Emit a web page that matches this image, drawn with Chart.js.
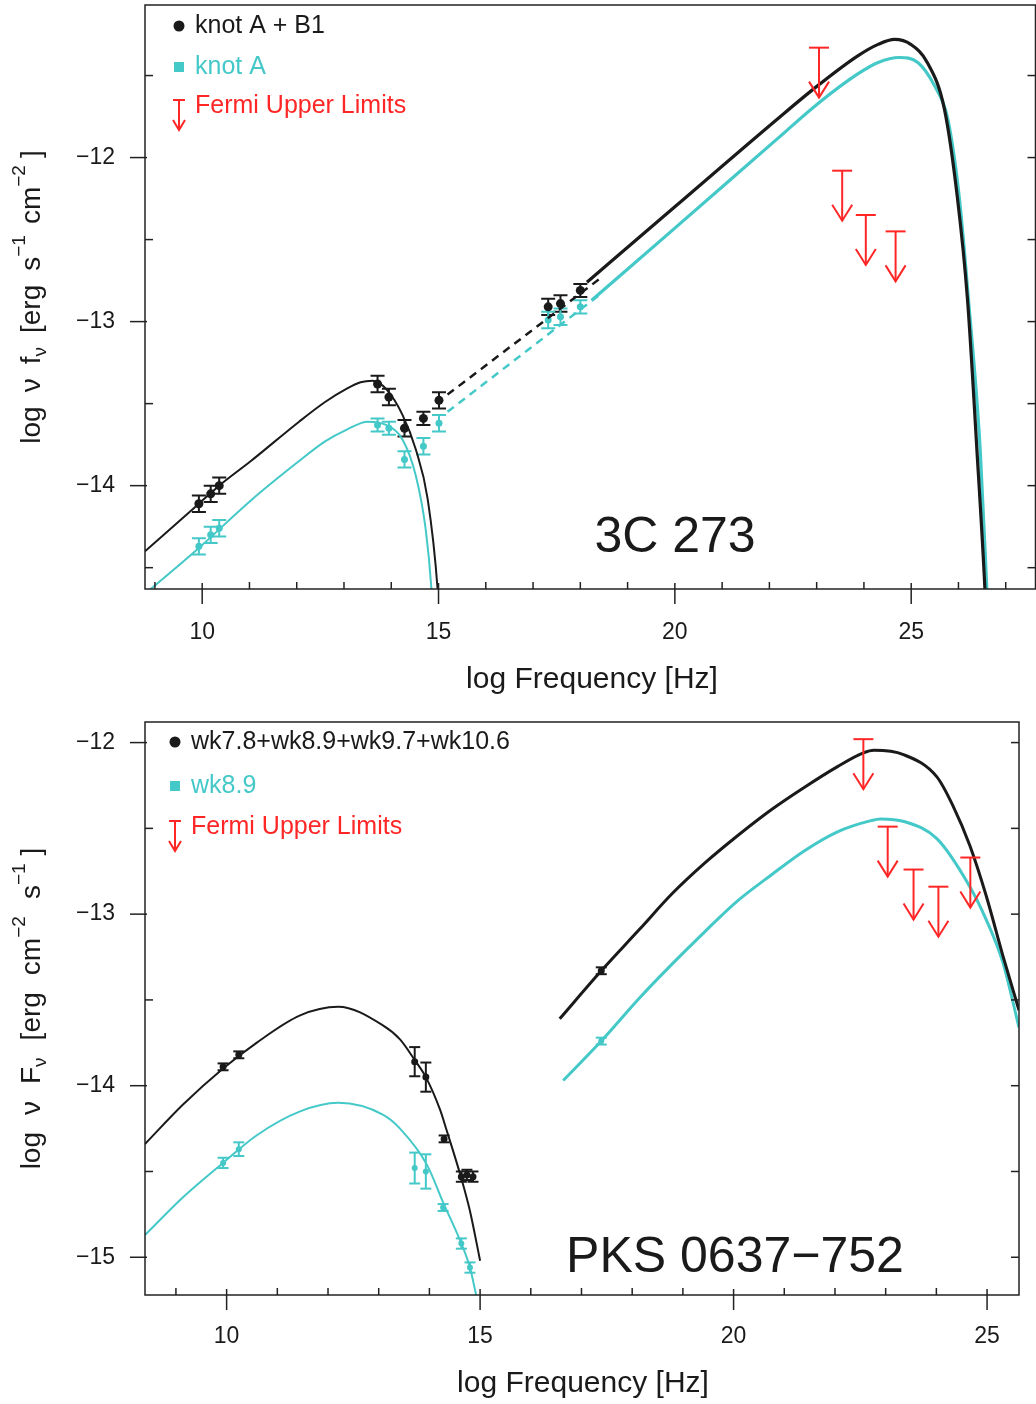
<!DOCTYPE html>
<html>
<head>
<meta charset="utf-8">
<script src="https://cdn.jsdelivr.net/npm/chart.js@4/dist/chart.umd.min.js"></script>
<style>
  html, body { margin: 0; padding: 0; background: #fff; overflow: hidden; }
  .panel { position: absolute; left: 0; }
</style>
</head>
<body>
<div class="panel" style="top:0"><canvas id="top" width="1040" height="700"></canvas></div>
<div class="panel" style="top:700px"><canvas id="bottom" width="1040" height="704"></canvas></div>
<script>
// ---------- 3C 273 (top panel) ----------
const abX = [9.93, 10.18, 10.36, 13.71, 13.95, 14.28, 14.68, 15.01, 17.32, 17.58, 18.0];
const abY = [-14.11, -14.05, -14.0, -13.38, -13.46, -13.65, -13.59, -13.48, -12.91, -12.89, -12.81];
const abErr = [0.05, 0.05, 0.05, 0.05, 0.05, 0.05, 0.04, 0.05, 0.05, 0.05, 0.04];
const aX = [9.93, 10.18, 10.36, 13.71, 13.95, 14.28, 14.68, 15.01, 17.32, 17.58, 18.0];
const aY = [-14.37, -14.30, -14.26, -13.63, -13.65, -13.84, -13.76, -13.62, -12.99, -12.97, -12.91];
const aErr = [0.05, 0.05, 0.05, 0.04, 0.04, 0.05, 0.05, 0.05, 0.05, 0.05, 0.04];

const abSyncX = [8.79, 9.93, 10.36, 11.03, 12.05, 12.6, 13.05, 13.35, 13.6, 13.89, 14.24, 14.52, 14.77, 14.98, 15.03];
const abSyncY = [-14.40, -14.11, -14.0, -13.85, -13.61, -13.49, -13.41, -13.37, -13.36, -13.41, -13.57, -13.78, -14.08, -14.63, -14.9];
const aSyncX = [8.79, 9.93, 11.03, 12.05, 12.6, 13.05, 13.5, 13.89, 14.24, 14.52, 14.73, 14.85, 14.9];
const aSyncY = [-14.66, -14.38, -14.09, -13.85, -13.73, -13.66, -13.61, -13.63, -13.72, -13.94, -14.27, -14.63, -14.9];

const abIcX = [18.14, 20.0, 22.19, 23.03, 23.87, 24.3, 24.65, 24.99, 25.34, 25.7, 25.98, 26.19, 26.39, 26.56, 26.6];
const abIcY = [-12.76, -12.30, -11.76, -11.56, -11.38, -11.31, -11.28, -11.31, -11.42, -11.70, -12.25, -12.86, -13.78, -14.63, -14.9];
const aIcX = [18.24, 20.0, 22.19, 23.03, 23.87, 24.3, 24.75, 25.14, 25.49, 25.77, 26.02, 26.21, 26.46, 26.6, 26.64];
const aIcY = [-12.87, -12.43, -11.88, -11.67, -11.49, -11.42, -11.39, -11.42, -11.56, -11.76, -12.25, -12.86, -13.78, -14.63, -14.9];

const abDashX = [15.19, 18.45];
const abDashY = [-13.445, -12.73];
const aDashX = [15.19, 18.39];
const aDashY = [-13.55, -12.84];

const topUlX = [23.05, 23.54, 24.04, 24.67];
const topUlY = [-11.33, -12.08, -12.35, -12.45];

// ---------- PKS 0637-752 (bottom panel) ----------
const wkAllX = [9.93, 10.24, 13.71, 13.93, 14.29, 14.63, 14.74, 14.86, 17.39];
const wkAllY = [-13.89, -13.82, -13.86, -13.95, -14.31, -14.53, -14.52, -14.53, -13.33];
const wkAllErr = [0.02, 0.02, 0.085, 0.085, 0.02, 0.03, 0.03, 0.03, 0.02];
const wk89X = [9.93, 10.24, 13.71, 13.93, 14.27, 14.63, 14.80, 17.39];
const wk89Y = [-14.45, -14.37, -14.48, -14.50, -14.71, -14.92, -15.06, -13.74];
const wk89Err = [0.03, 0.04, 0.09, 0.1, 0.02, 0.03, 0.03, 0.02];

const wkAllSyncX = [8.39, 9.14, 9.93, 10.59, 11.45, 12.2, 13.09, 13.42, 13.71, 13.93, 14.21, 14.34, 14.63, 14.8, 15.0];
const wkAllSyncY = [-14.34, -14.11, -13.90, -13.75, -13.59, -13.54, -13.65, -13.73, -13.85, -13.95, -14.14, -14.26, -14.54, -14.73, -15.02];
const wk89SyncX = [8.39, 9.14, 9.93, 10.59, 11.45, 12.2, 13.09, 13.42, 13.95, 14.27, 14.63, 14.8, 14.9, 14.98];
const wk89SyncY = [-14.87, -14.65, -14.45, -14.29, -14.15, -14.10, -14.17, -14.25, -14.46, -14.68, -14.92, -15.06, -15.19, -15.3];

const wkAllIcX = [16.57, 17.39, 18.14, 18.79, 19.44, 20.09, 20.75, 21.40, 22.05, 22.56, 22.77, 23.35, 24.01, 24.33, 24.66, 24.98, 25.31, 25.63];
const wkAllIcY = [-13.61, -13.33, -13.09, -12.88, -12.70, -12.54, -12.39, -12.26, -12.14, -12.06, -12.045, -12.07, -12.20, -12.37, -12.60, -12.89, -13.24, -13.56];
const wk89IcX = [16.64, 17.39, 18.14, 18.79, 19.44, 20.09, 20.75, 21.40, 22.05, 22.71, 22.9, 23.36, 24.01, 24.66, 24.98, 25.31, 25.63];
const wk89IcY = [-13.97, -13.74, -13.49, -13.29, -13.10, -12.92, -12.77, -12.63, -12.52, -12.455, -12.445, -12.46, -12.56, -12.84, -13.03, -13.28, -13.66];

const botUlX = [22.56, 23.04, 23.55, 24.04, 24.67];
const botUlY = [-11.98, -12.49, -12.74, -12.84, -12.67];

// ---------- styling ----------
const INK = '#1a1a1a';
const CYAN = '#44c8c8';
const RED = '#ff2626';
const FONT = '"Liberation Sans", Arial, sans-serif';

const pts = (xs, ys) => xs.map((x, i) => ({ x: x, y: ys[i] }));

function curve(xs, ys, color, width, dash) {
  return {
    data: pts(xs, ys), showLine: true, borderColor: color, borderWidth: width,
    borderDash: dash || [], pointRadius: 0, pointHoverRadius: 0,
    cubicInterpolationMode: 'monotone', fill: false
  };
}

function marks(xs, ys, color, r) {
  return {
    data: pts(xs, ys), showLine: false, pointRadius: r, pointHoverRadius: r,
    pointBackgroundColor: color, pointBorderColor: color, pointBorderWidth: 0
  };
}

function line(ctx, x1, y1, x2, y2) {
  ctx.beginPath();
  ctx.moveTo(x1, y1);
  ctx.lineTo(x2, y2);
  ctx.stroke();
}

function arrow(ctx, x, yTop, len) {
  line(ctx, x - 10, yTop, x + 10, yTop);
  line(ctx, x, yTop, x, yTop + len);
  ctx.beginPath();
  ctx.moveTo(x - 10, yTop + len - 16);
  ctx.lineTo(x, yTop + len);
  ctx.lineTo(x + 10, yTop + len - 16);
  ctx.stroke();
}

function richTitle(ctx, parts, cx, cy, size) {
  ctx.save();
  ctx.translate(cx, cy);
  ctx.rotate(-Math.PI / 2);
  ctx.fillStyle = INK;
  ctx.textBaseline = 'middle';
  ctx.textAlign = 'left';
  const small = size * 0.68;
  let total = 0;
  parts.forEach(p => {
    if (p.gap) { total += p.gap; return; }
    ctx.font = (p.k ? small : size) + 'px ' + FONT;
    total += ctx.measureText(p.t).width;
  });
  let x = -total / 2;
  parts.forEach(p => {
    if (p.gap) { x += p.gap; return; }
    ctx.font = (p.k ? small : size) + 'px ' + FONT;
    const dy = p.k === 'sup' ? -size * 0.45 : p.k === 'sub' ? size * 0.3 : 0;
    ctx.fillText(p.t, x, dy);
    x += ctx.measureText(p.t).width;
  });
  ctx.restore();
}

function decor(cfg) {
  return {
    id: 'decor',
    beforeDatasetsDraw(chart) {
      const { ctx, chartArea: a, scales: { x, y } } = chart;
      ctx.save();
      ctx.beginPath();
      ctx.rect(a.left, a.top, a.right - a.left, a.bottom - a.top);
      ctx.clip();
      ctx.lineWidth = 2;
      cfg.errors.forEach(e => {
        ctx.strokeStyle = e.color;
        e.xs.forEach((v, i) => {
          const px = x.getPixelForValue(v);
          const y1 = y.getPixelForValue(e.ys[i] + e.err[i]);
          const y2 = y.getPixelForValue(e.ys[i] - e.err[i]);
          line(ctx, px, y1, px, y2);
          line(ctx, px - e.cap / 2, y1, px + e.cap / 2, y1);
          line(ctx, px - e.cap / 2, y2, px + e.cap / 2, y2);
        });
      });
      ctx.restore();
    },
    afterDatasetsDraw(chart) {
      const { ctx, scales: { x, y } } = chart;
      ctx.save();
      ctx.strokeStyle = RED;
      ctx.lineWidth = 2;
      cfg.ulX.forEach((v, i) => arrow(ctx, x.getPixelForValue(v), y.getPixelForValue(cfg.ulY[i]), 50));
      ctx.restore();
    },
    afterDraw(chart) {
      const { ctx, chartArea: a, scales: { x, y } } = chart;
      ctx.save();
      ctx.strokeStyle = '#222';
      ctx.lineWidth = 1.5;
      ctx.strokeRect(a.left, a.top, a.right - a.left, a.bottom - a.top);
      for (let v = Math.ceil(x.min); v <= x.max; v++) {
        const px = x.getPixelForValue(v);
        if (v % 5 === 0) line(ctx, px, a.bottom - 6, px, a.bottom + 15);
        else line(ctx, px, a.bottom - 7, px, a.bottom);
      }
      ctx.fillStyle = INK;
      ctx.font = '23px ' + FONT;
      ctx.textAlign = 'right';
      ctx.textBaseline = 'middle';
      for (let v = Math.ceil(y.min * 2) / 2; v <= y.max; v += 0.5) {
        const py = y.getPixelForValue(v);
        if (Number.isInteger(v)) {
          line(ctx, a.left - 15, py, a.left + 2, py);
          ctx.fillText('\u2212' + Math.abs(v), a.left - 30, py);
        } else {
          line(ctx, a.left, py, a.left + 8, py);
        }
        line(ctx, a.right - 8, py, a.right, py);
      }

      // axis titles
      ctx.textAlign = 'center';
      ctx.font = '30px ' + FONT;
      ctx.fillText('log Frequency [Hz]', cfg.xTitle[0], cfg.xTitle[1]);
      richTitle(ctx, cfg.yTitle, cfg.yTitleX, (a.top + a.bottom) / 2, 28);

      // source name
      ctx.font = '50px ' + FONT;
      ctx.fillText(cfg.name, cfg.namePos[0], cfg.namePos[1]);

      // legend
      ctx.textAlign = 'left';
      ctx.font = '25px ' + FONT;
      const lx = cfg.legendX, tx = cfg.legendX + 16;
      cfg.legend.forEach(item => {
        ctx.fillStyle = item.color;
        ctx.strokeStyle = item.color;
        if (item.kind === 'dot') {
          ctx.beginPath();
          ctx.arc(lx, item.y, 5.5, 0, Math.PI * 2);
          ctx.fill();
        } else if (item.kind === 'sq') {
          ctx.fillRect(lx - 5, item.y - 5, 10, 10);
        } else {
          ctx.lineWidth = 2;
          line(ctx, lx - 6, item.y - 6, lx + 6, item.y - 6);
          line(ctx, lx, item.y - 6, lx, item.y + 24);
          ctx.beginPath();
          ctx.moveTo(lx - 6, item.y + 14);
          ctx.lineTo(lx, item.y + 24);
          ctx.lineTo(lx + 6, item.y + 14);
          ctx.stroke();
        }
        ctx.fillText(item.text, tx, item.y);
      });
      ctx.restore();
    }
  };
}

function build(id, cfg) {
  return new Chart(document.getElementById(id), {
    type: 'scatter',
    data: { datasets: cfg.datasets },
    options: {
      responsive: false,
      animation: false,
      devicePixelRatio: 1,
      events: [],
      layout: { padding: { top: cfg.padTop, right: cfg.padRight, left: 0, bottom: 0 } },
      plugins: { legend: { display: false }, tooltip: { enabled: false } },
      scales: {
        x: {
          type: 'linear', min: cfg.xMin, max: cfg.xMax,
          afterFit: s => { s.height = cfg.xAxisH; },
          grid: { display: false, drawTicks: false },
          border: { display: false },
          ticks: {
            stepSize: 1, includeBounds: false, autoSkip: false, maxRotation: 0,
            padding: cfg.xPad, color: INK, font: { family: FONT, size: 23 },
            callback: v => (Math.round(v) === v && v % 5 === 0 ? String(v) : '')
          }
        },
        y: {
          type: 'linear', min: cfg.yMin, max: cfg.yMax,
          afterFit: s => { s.width = 145; },
          grid: { display: false, drawTicks: false },
          border: { display: false },
          ticks: { display: false, stepSize: 0.5, includeBounds: false }
        }
      }
    },
    plugins: [decor(cfg)]
  });
}

build('top', {
  xMin: 8.79, xMax: 27.63, yMin: -14.63, yMax: -11.07,
  padTop: 5, padRight: 2, xAxisH: 111, xPad: 30,
  datasets: [
    curve(abSyncX, abSyncY, INK, 2),
    curve(aSyncX, aSyncY, CYAN, 2),
    curve(abDashX, abDashY, INK, 2.5, [8, 6]),
    curve(aDashX, aDashY, CYAN, 2.5, [8, 6]),
    curve(abIcX, abIcY, INK, 3.2),
    curve(aIcX, aIcY, CYAN, 3.2),
    marks(abX, abY, INK, 4.5),
    marks(aX, aY, CYAN, 3.5)
  ],
  errors: [
    { xs: abX, ys: abY, err: abErr, color: INK, cap: 14 },
    { xs: aX, ys: aY, err: aErr, color: CYAN, cap: 14 }
  ],
  ulX: topUlX, ulY: topUlY,
  xTitle: [592, 680],
  yTitleX: 32,
  yTitle: [
    { t: 'log' }, { gap: 14 }, { t: '\u03bd' }, { gap: 14 }, { t: 'f' }, { t: '\u03bd', k: 'sub' }, { gap: 14 },
    { t: '[erg' }, { gap: 14 }, { t: 's' }, { t: '\u22121', k: 'sup' }, { gap: 11 },
    { t: 'cm' }, { t: '\u22122', k: 'sup' }, { gap: 7 }, { t: ']' }
  ],
  name: '3C 273', namePos: [675, 538],
  legendX: 179,
  legend: [
    { kind: 'dot', color: INK, text: 'knot A + B1', y: 26 },
    { kind: 'sq', color: CYAN, text: 'knot A', y: 67 },
    { kind: 'ul', color: RED, text: 'Fermi Upper Limits', y: 106 }
  ]
});

build('bottom', {
  xMin: 8.39, xMax: 25.63, yMin: -15.22, yMax: -11.88,
  padTop: 22, padRight: 21, xAxisH: 109, xPad: 28,
  datasets: [
    curve(wkAllSyncX, wkAllSyncY, INK, 2),
    curve(wk89SyncX, wk89SyncY, CYAN, 2),
    curve(wkAllIcX, wkAllIcY, INK, 3),
    curve(wk89IcX, wk89IcY, CYAN, 3),
    marks(wkAllX, wkAllY, INK, 3.5),
    marks(wk89X, wk89Y, CYAN, 3)
  ],
  errors: [
    { xs: wkAllX, ys: wkAllY, err: wkAllErr, color: INK, cap: 11 },
    { xs: wk89X, ys: wk89Y, err: wk89Err, color: CYAN, cap: 11 }
  ],
  ulX: botUlX, ulY: botUlY,
  xTitle: [583, 684],
  yTitleX: 32,
  yTitle: [
    { t: 'log' }, { gap: 17 }, { t: '\u03bd' }, { gap: 17 }, { t: 'F' }, { t: '\u03bd', k: 'sub' }, { gap: 17 },
    { t: '[erg' }, { gap: 17 }, { t: 'cm' }, { t: '\u22122', k: 'sup' }, { gap: 17 },
    { t: 's' }, { t: '\u22121', k: 'sup' }, { gap: 8 }, { t: ']' }
  ],
  name: 'PKS 0637\u2212752', namePos: [735, 558],
  legendX: 175,
  legend: [
    { kind: 'dot', color: INK, text: 'wk7.8+wk8.9+wk9.7+wk10.6', y: 42 },
    { kind: 'sq', color: CYAN, text: 'wk8.9', y: 86 },
    { kind: 'ul', color: RED, text: 'Fermi Upper Limits', y: 127 }
  ]
});
</script>
</body>
</html>
